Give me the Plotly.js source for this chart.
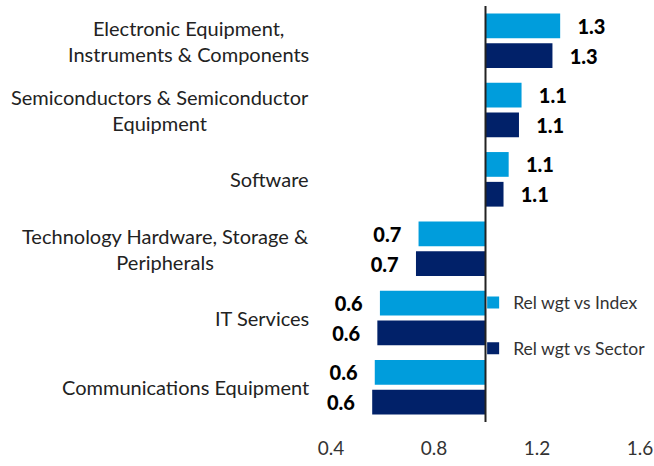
<!DOCTYPE html>
<html>
<head>
<meta charset="utf-8">
<script src="https://cdn.plot.ly/plotly-3.0.1.min.js"></script>
<style>
  html, body { margin: 0; padding: 0; background: #ffffff; }
  #chart { width: 654px; height: 466px; }
</style>
</head>
<body>
<div id="chart"></div>
<script>
// categories, top to bottom
const sectors = [
    "Electronic Equipment,<br>Instruments & Components",
    "Semiconductors & Semiconductor<br>Equipment",
    "Software",
    "Technology Hardware, Storage &<br>Peripherals",
    "IT Services",
    "Communications Equipment"
];
// relative weights (1.0 = neutral)
const relVsIndex  = [1.29, 1.14, 1.09, 0.74, 0.59, 0.57];
const relVsSector = [1.26, 1.13, 1.07, 0.73, 0.58, 0.56];

const xTicks = [0.4, 0.8, 1.2, 1.6];

const FONT = 'Lato, "Open Sans", sans-serif';
const BASE = 1.0;
const pad = '\u00a0\u00a0\u00a0';

function labels(vals) {
    return vals.map(v => v >= BASE ? pad + v.toFixed(1) : v.toFixed(1) + pad);
}

function makeTrace(name, vals, color) {
    return {
        type: 'bar',
        orientation: 'h',
        name: name,
        legendgroup: name,
        y: sectors,
        x: vals.map(v => v - BASE),
        base: BASE,
        marker: { color: color },
        text: labels(vals),
        textposition: 'outside',
        constraintext: 'none',
        cliponaxis: false,
        textfont: { family: FONT, size: 20, color: '#000000', weight: 900 },
        hoverinfo: 'skip'
    };
}

var data = [
    makeTrace('Rel wgt vs Index', relVsIndex, '#009ddc'),
    makeTrace('Rel wgt vs Sector', relVsSector, '#012169')
];

// category labels as centered text blocks, right aligned to the axis
var annotations = sectors.map(s => ({
    xref: 'paper', yref: 'y',
    x: 0, y: s,
    xanchor: 'right', yanchor: 'middle',
    xshift: -20,
    align: 'center',
    text: s,
    showarrow: false,
    font: { family: FONT, size: 20, color: '#222222' }
}));

var layout = {
    width: 654,
    height: 466,
    margin: { l: 331, r: 14, t: 6, b: 44, pad: 0, autoexpand: false },
    paper_bgcolor: '#ffffff',
    plot_bgcolor: '#ffffff',
    barmode: 'group',
    bargap: 0.14,
    bargroupgap: 0.17,
    font: { family: FONT, size: 19, color: '#333333' },
    showlegend: true,
    legend: {
        x: 0.46, xanchor: 'left',
        y: 0.33, yanchor: 'top',
        traceorder: 'grouped',
        tracegroupgap: 20,
        font: { family: FONT, size: 17.5, color: '#333333' },
        bgcolor: 'rgba(0,0,0,0)'
    },
    xaxis: {
        range: [0.4, 1.6],
        tickmode: 'array',
        tickvals: xTicks,
        ticktext: xTicks.map(v => v.toFixed(1)),
        showgrid: false,
        zeroline: false,
        showline: false,
        ticks: '',
        ticklabelstandoff: 13,
        tickfont: { family: FONT, size: 19, color: '#333333' },
        fixedrange: true
    },
    yaxis: {
        type: 'category',
        autorange: 'reversed',
        showticklabels: false,
        showgrid: false,
        zeroline: false,
        showline: false,
        ticks: '',
        fixedrange: true
    },
    shapes: [{
        type: 'line',
        xref: 'x', yref: 'paper',
        x0: BASE, x1: BASE, y0: 0, y1: 1,
        line: { color: '#222222', width: 2 }
    }],
    annotations: annotations
};

Plotly.newPlot('chart', data, layout, { displayModeBar: false, staticPlot: true });
</script>
</body>
</html>
